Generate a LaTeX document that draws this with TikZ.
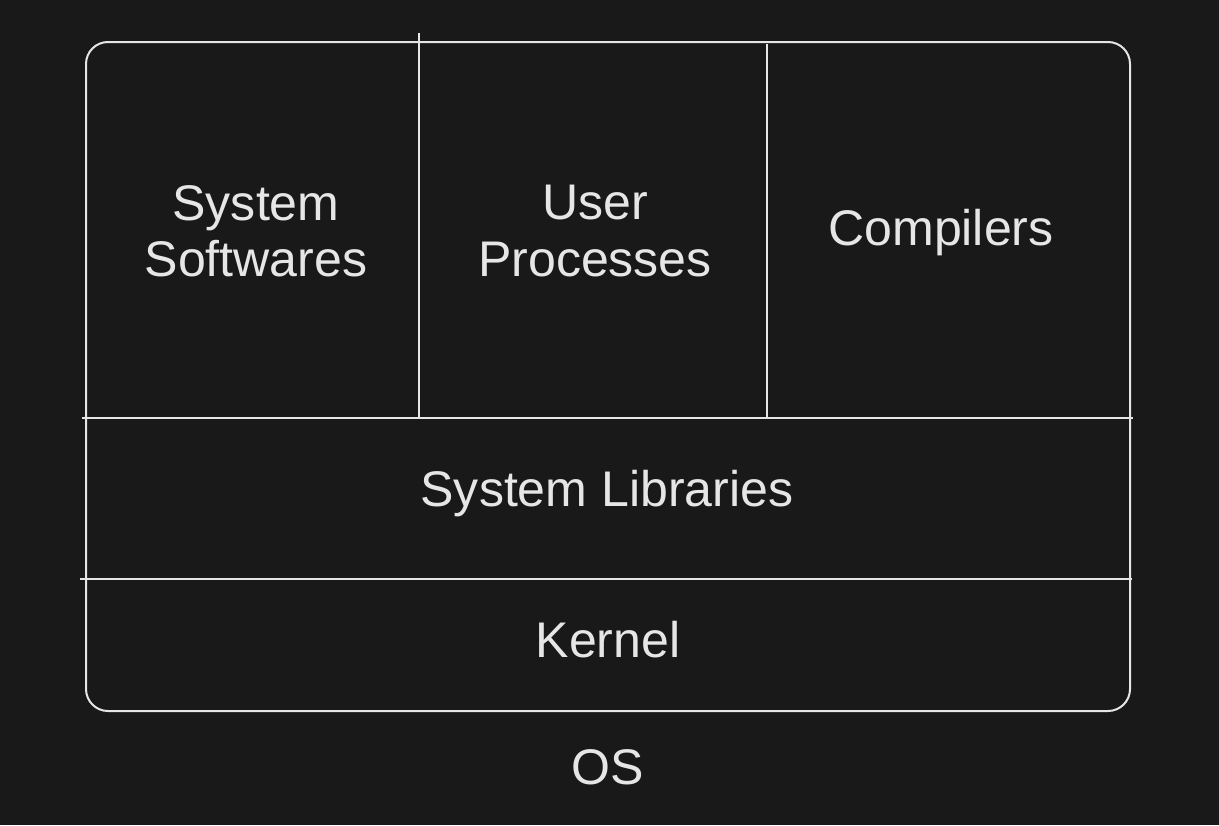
\documentclass[tikz,border=0pt]{standalone}
\usepackage{fontspec}
\setmainfont{Liberation Sans}
\usepackage{xcolor}
\definecolor{canvas}{HTML}{191919}
\definecolor{ink}{HTML}{E6E6E6}

\begin{document}
\begin{tikzpicture}[
    x=0.02cm, y=-0.02cm,
    frame/.style={
        draw=ink, line width=0.04cm, rounded corners=0.44cm
    },
    divider/.style={
        draw=ink, line width=0.04cm
    },
    lbl/.style={
        text=ink, align=center, inner sep=0pt,
        font=\fontsize{28.5}{32}\selectfont
    }
]

% Background
\fill[canvas] (0,0) rectangle (1219,825);
\useasboundingbox (0,0) rectangle (1219,825);

% Outer box
\draw[frame] (86,42) rectangle (1130,711);

% Dividers
\draw[divider] (419,33) -- (419,418);
\draw[divider] (767,44) -- (767,418);
\draw[divider] (82,418) -- (1133,418);
\draw[divider] (80,579) -- (1132,579);

% Nodes
\node[lbl] (syssw) at (256,231) {System\\Softwares};
\node[lbl] (userproc) at (595,231) {User\\Processes};
\node[lbl] (compilers) at (941,233) {Compilers};
\node[lbl] (syslib) at (607,494) {System Libraries};
\node[lbl] (kernel) at (608,640) {Kernel};
\node[lbl] (os) at (608,767) {OS};

\end{tikzpicture}
\end{document}
